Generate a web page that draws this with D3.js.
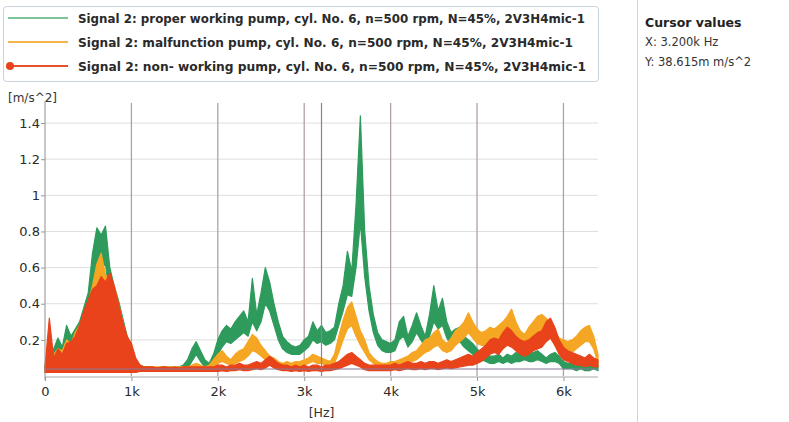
<!DOCTYPE html>
<html>
<head>
<meta charset="utf-8">
<script src="https://cdn.jsdelivr.net/npm/d3@7"></script>
<style>
  body { margin: 0; background: #fff; }
  svg { display: block; }
  text { font-family: "DejaVu Sans", sans-serif; }
</style>
</head>
<body>
<div id="container"></div>
<script>
/**
 * CONSTANTS AND GLOBALS
 * */
const width = 789,
  height = 422,
  margin = {top: 105, bottom: 46, left: 45, right: 191};

// frequency grid of the spectrum samples (Hz), every 50 Hz from 0 to 6400
const freqHz = d3.range(0, 6401, 50);

// upper / lower envelope of each noisy spectrum band [m/s^2]
const greenHi = [
  0.06,0.12,0.15,0.21,0.16,0.28,0.22,0.26,0.30,0.38,
  0.46,0.68,0.82,0.78,0.83,0.60,0.50,0.42,0.32,0.22,
  0.16,0.08,0.06,0.05,0.05,0.05,0.04,0.05,0.05,0.05,
  0.05,0.05,0.06,0.09,0.15,0.19,0.14,0.09,0.07,0.12,
  0.20,0.25,0.28,0.26,0.30,0.33,0.36,0.30,0.54,0.34,
  0.46,0.60,0.52,0.40,0.30,0.22,0.19,0.17,0.16,0.17,
  0.20,0.22,0.30,0.25,0.28,0.24,0.25,0.27,0.40,0.50,
  0.69,0.58,0.95,1.44,0.80,0.50,0.34,0.24,0.20,0.19,
  0.18,0.20,0.30,0.33,0.22,0.28,0.35,0.28,0.22,0.34,
  0.50,0.36,0.43,0.30,0.24,0.26,0.27,0.22,0.20,0.18,
  0.15,0.13,0.12,0.11,0.11,0.12,0.10,0.12,0.11,0.13,
  0.12,0.14,0.12,0.13,0.14,0.12,0.10,0.12,0.13,0.11,
  0.08,0.07,0.07,0.06,0.07,0.06,0.06,0.07,0.06
];
const greenLo = [
  0.02,0.04,0.05,0.07,0.08,0.10,0.12,0.14,0.16,0.20,
  0.26,0.40,0.60,0.60,0.62,0.42,0.34,0.28,0.20,0.12,
  0.07,0.04,0.03,0.03,0.03,0.03,0.03,0.03,0.03,0.03,
  0.03,0.03,0.03,0.04,0.08,0.12,0.08,0.05,0.04,0.06,
  0.12,0.16,0.19,0.18,0.20,0.22,0.24,0.22,0.30,0.25,
  0.30,0.40,0.36,0.28,0.20,0.15,0.13,0.12,0.12,0.12,
  0.14,0.16,0.20,0.18,0.19,0.17,0.18,0.20,0.28,0.36,
  0.45,0.44,0.60,0.85,0.55,0.36,0.24,0.17,0.14,0.13,
  0.13,0.14,0.20,0.22,0.16,0.19,0.24,0.20,0.16,0.22,
  0.30,0.26,0.28,0.21,0.17,0.18,0.19,0.16,0.14,0.12,
  0.10,0.09,0.08,0.07,0.07,0.08,0.07,0.08,0.07,0.08,
  0.08,0.09,0.08,0.08,0.09,0.08,0.07,0.08,0.08,0.07,
  0.04,0.04,0.04,0.03,0.04,0.03,0.03,0.04,0.03
];
const orangeHi = [
  0.05,0.10,0.12,0.15,0.14,0.20,0.18,0.24,0.28,0.34,
  0.40,0.50,0.62,0.68,0.56,0.52,0.50,0.40,0.30,0.20,
  0.15,0.08,0.05,0.05,0.05,0.05,0.05,0.05,0.05,0.05,
  0.05,0.05,0.05,0.05,0.06,0.07,0.06,0.05,0.06,0.09,
  0.12,0.14,0.11,0.09,0.12,0.14,0.15,0.19,0.23,0.21,
  0.17,0.14,0.11,0.10,0.08,0.07,0.08,0.07,0.08,0.08,
  0.09,0.10,0.12,0.11,0.10,0.09,0.08,0.12,0.22,0.31,
  0.38,0.41,0.33,0.25,0.20,0.13,0.10,0.08,0.07,0.07,
  0.08,0.08,0.09,0.10,0.11,0.13,0.14,0.17,0.20,0.21,
  0.24,0.26,0.20,0.18,0.21,0.25,0.27,0.30,0.35,0.30,
  0.26,0.24,0.25,0.27,0.26,0.28,0.30,0.33,0.37,0.30,
  0.25,0.23,0.27,0.30,0.33,0.34,0.32,0.30,0.25,0.21,
  0.20,0.19,0.20,0.22,0.25,0.27,0.28,0.22,0.12
];
const orangeLo = [
  0.02,0.03,0.04,0.05,0.05,0.06,0.07,0.08,0.10,0.12,
  0.15,0.20,0.25,0.30,0.28,0.26,0.24,0.20,0.15,0.10,
  0.07,0.04,0.03,0.03,0.03,0.03,0.03,0.03,0.03,0.03,
  0.03,0.03,0.03,0.03,0.03,0.04,0.03,0.03,0.04,0.05,
  0.07,0.08,0.07,0.06,0.07,0.08,0.09,0.11,0.14,0.13,
  0.11,0.09,0.07,0.06,0.05,0.05,0.05,0.05,0.05,0.05,
  0.06,0.07,0.08,0.07,0.07,0.06,0.05,0.07,0.13,0.20,
  0.26,0.28,0.22,0.17,0.13,0.09,0.07,0.05,0.05,0.05,
  0.05,0.05,0.06,0.06,0.07,0.08,0.09,0.11,0.13,0.14,
  0.16,0.17,0.14,0.13,0.14,0.17,0.19,0.21,0.24,0.21,
  0.18,0.17,0.17,0.19,0.18,0.20,0.21,0.23,0.26,0.21,
  0.17,0.16,0.19,0.21,0.23,0.24,0.22,0.21,0.17,0.14,
  0.13,0.12,0.13,0.15,0.17,0.19,0.19,0.15,0.07
];
const redHi = [
  0.05,0.32,0.10,0.15,0.12,0.18,0.19,0.22,0.28,0.36,
  0.42,0.48,0.50,0.55,0.52,0.57,0.50,0.40,0.30,0.22,
  0.18,0.10,0.06,0.05,0.05,0.05,0.045,0.05,0.05,0.045,
  0.05,0.045,0.05,0.05,0.05,0.05,0.05,0.05,0.05,0.05,
  0.06,0.06,0.05,0.06,0.06,0.07,0.06,0.06,0.07,0.08,
  0.07,0.09,0.11,0.09,0.07,0.06,0.06,0.05,0.06,0.05,
  0.06,0.05,0.06,0.06,0.05,0.06,0.06,0.07,0.08,0.10,
  0.12,0.13,0.11,0.09,0.07,0.06,0.06,0.06,0.06,0.06,
  0.06,0.07,0.06,0.07,0.08,0.07,0.07,0.08,0.07,0.08,
  0.08,0.07,0.08,0.09,0.08,0.09,0.10,0.11,0.12,0.11,
  0.13,0.15,0.17,0.20,0.21,0.20,0.24,0.27,0.25,0.22,
  0.20,0.19,0.20,0.22,0.24,0.25,0.30,0.32,0.27,0.20,
  0.16,0.14,0.13,0.12,0.11,0.10,0.12,0.10,0.09
];
const redLo = [
  0.02,0.02,0.02,0.02,0.02,0.02,0.02,0.02,0.02,0.02,
  0.02,0.02,0.02,0.02,0.02,0.02,0.02,0.02,0.02,0.02,
  0.02,0.02,0.025,0.025,0.025,0.025,0.025,0.025,0.025,0.025,
  0.025,0.025,0.025,0.025,0.025,0.025,0.025,0.025,0.025,0.025,
  0.025,0.03,0.025,0.03,0.03,0.035,0.03,0.03,0.035,0.04,
  0.035,0.045,0.06,0.045,0.035,0.03,0.03,0.025,0.03,0.025,
  0.03,0.025,0.03,0.03,0.025,0.03,0.03,0.035,0.04,0.05,
  0.06,0.07,0.06,0.05,0.035,0.03,0.03,0.03,0.03,0.03,
  0.03,0.035,0.03,0.035,0.04,0.035,0.035,0.04,0.035,0.04,
  0.04,0.035,0.04,0.045,0.04,0.045,0.05,0.055,0.06,0.06,
  0.07,0.08,0.10,0.12,0.13,0.12,0.15,0.17,0.16,0.14,
  0.12,0.11,0.12,0.14,0.15,0.16,0.19,0.21,0.17,0.12,
  0.09,0.08,0.07,0.06,0.06,0.05,0.06,0.05,0.05
];

const yTicks = [0.2, 0.4, 0.6, 0.8, 1, 1.2, 1.4];
const xTicks = [0, 1000, 2000, 3000, 4000, 5000, 6000];
const xTickLabels = ["0", "1k", "2k", "3k", "4k", "5k", "6k"];

const seriesNames = [
  "Signal 2: proper working pump, cyl. No. 6, n=500 rpm, N=45%, 2V3H4mic-1",
  "Signal 2: malfunction pump, cyl. No. 6, n=500 rpm, N=45%, 2V3H4mic-1",
  "Signal 2: non- working pump, cyl. No. 6, n=500 rpm, N=45%, 2V3H4mic-1"
];
const cursorX = 3200, cursorY = 0.038615;

/**
 * INIT
 * */
const svg = d3.select("#container")
  .append("svg")
  .attr("width", width)
  .attr("height", height);

const x = d3.scaleLinear().domain([0, 6400]).range([margin.left, width - margin.right]);
const y = d3.scaleLinear().domain([0, 1.5]).range([height - margin.bottom, margin.top]);
const y0 = y(0);

// horizontal grid
svg.append("g").selectAll("line").data(yTicks).join("line")
  .attr("x1", x(0)).attr("x2", x(6400))
  .attr("y1", d => y(d)).attr("y2", d => y(d))
  .attr("stroke", "#dedede").attr("stroke-width", 1);

// vertical grid
svg.append("g").selectAll("line").data(xTicks.slice(1)).join("line")
  .attr("x1", d => x(d)).attr("x2", d => x(d))
  .attr("y1", margin.top - 2).attr("y2", y0)
  .attr("stroke", "#b0a2a2").attr("stroke-width", 1.3);

// spectra as noisy bands
const series = [
  {hi: greenHi, lo: greenLo, color: "#2e9b5c"},
  {hi: orangeHi, lo: orangeLo, color: "#f5a623"},
  {hi: redHi, lo: redLo, color: "#e8431b"}
];
series.forEach(s => {
  const pts = freqHz.map((f, i) => ({f, hi: s.hi[i], lo: s.lo[i]}));
  svg.append("path").datum(pts)
    .attr("d", d3.area().x(d => x(d.f)).y0(d => y(d.lo)).y1(d => y(d.hi)))
    .attr("fill", s.color)
    .attr("stroke", s.color).attr("stroke-width", 1.2)
    .attr("stroke-linejoin", "round");
});

// cursor lines
svg.append("line")
  .attr("x1", x(cursorX)).attr("x2", x(cursorX))
  .attr("y1", margin.top - 2).attr("y2", y0)
  .attr("stroke", "#8e8090").attr("stroke-width", 1.2);
svg.append("line")
  .attr("x1", x(0)).attr("x2", x(6400))
  .attr("y1", y(cursorY)).attr("y2", y(cursorY))
  .attr("stroke", "#857a9c").attr("stroke-width", 1.2);

// axes
const yAxis = d3.axisLeft(y).tickValues(yTicks).tickFormat(d3.format("~g")).tickSize(4);
svg.append("g").attr("transform", `translate(${x(0)},0)`).call(yAxis)
  .call(g => g.select(".domain").remove())
  .call(g => g.selectAll("line").attr("stroke", "#999"))
  .call(g => g.selectAll("text").attr("font-size", 13).attr("fill", "#2a2a2a").attr("x", -5));
svg.append("line")
  .attr("x1", x(0)).attr("x2", x(0)).attr("y1", margin.top - 4).attr("y2", y0 + 4)
  .attr("stroke", "#8f8f8f");
svg.append("line")
  .attr("x1", x(0)).attr("x2", x(6400)).attr("y1", y0 + 1).attr("y2", y0 + 1)
  .attr("stroke", "#a8a8a8");

const xAxis = d3.axisBottom(x).tickValues(xTicks).tickFormat((d, i) => xTickLabels[i]).tickSize(4);
svg.append("g").attr("transform", `translate(0,${y0 + 1})`).call(xAxis)
  .call(g => g.select(".domain").remove())
  .call(g => g.selectAll("line").attr("stroke", "#999"))
  .call(g => g.selectAll("text").attr("font-size", 13).attr("fill", "#2a2a2a").attr("dy", "0.9em"));

svg.append("text").attr("x", 8).attr("y", 102)
  .attr("font-size", 12).attr("fill", "#333").text("[m/s^2]");
svg.append("text").attr("x", x(3200)).attr("y", 417).attr("text-anchor", "middle")
  .attr("font-size", 12.5).attr("fill", "#333").text("[Hz]");

// legend
svg.append("rect")
  .attr("x", 3.5).attr("y", 6.5).attr("width", 595).attr("height", 75).attr("rx", 3)
  .attr("fill", "#fff").attr("stroke", "#c9d2da");
const legendColors = ["#7cc596", "#f6b548", "#e8502c"];
const legendEnds = [585, 573, 586];
const lg = svg.append("g").selectAll("g").data(seriesNames).join("g")
  .attr("transform", (d, i) => `translate(0,${18 + i * 24})`);
lg.append("line").attr("x1", 8).attr("x2", 68).attr("y1", 0).attr("y2", 0)
  .attr("stroke", (d, i) => legendColors[i]).attr("stroke-width", 2);
lg.filter((d, i) => i === 2).append("circle").attr("cx", 10).attr("cy", 0).attr("r", 4)
  .attr("fill", "#e8431b");
lg.append("text").attr("x", 78).attr("y", 4.5)
  .attr("font-size", 11.5).attr("font-weight", "bold").attr("fill", "#2a2a2a")
  .attr("textLength", (d, i) => legendEnds[i] - 78).attr("lengthAdjust", "spacingAndGlyphs")
  .text(d => d);

// cursor panel
svg.append("line").attr("x1", 637.5).attr("x2", 637.5).attr("y1", 0).attr("y2", height)
  .attr("stroke", "#d4d4d4");
svg.append("text").attr("x", 645).attr("y", 27)
  .attr("font-size", 12.5).attr("font-weight", "bold").attr("fill", "#222").text("Cursor values");
svg.append("text").attr("x", 645).attr("y", 46)
  .attr("font-size", 11.5).attr("fill", "#333").text("X: 3.200k Hz");
svg.append("text").attr("x", 645).attr("y", 66)
  .attr("font-size", 11.5).attr("fill", "#333").text("Y: 38.615m m/s^2");
</script>
</body>
</html>
